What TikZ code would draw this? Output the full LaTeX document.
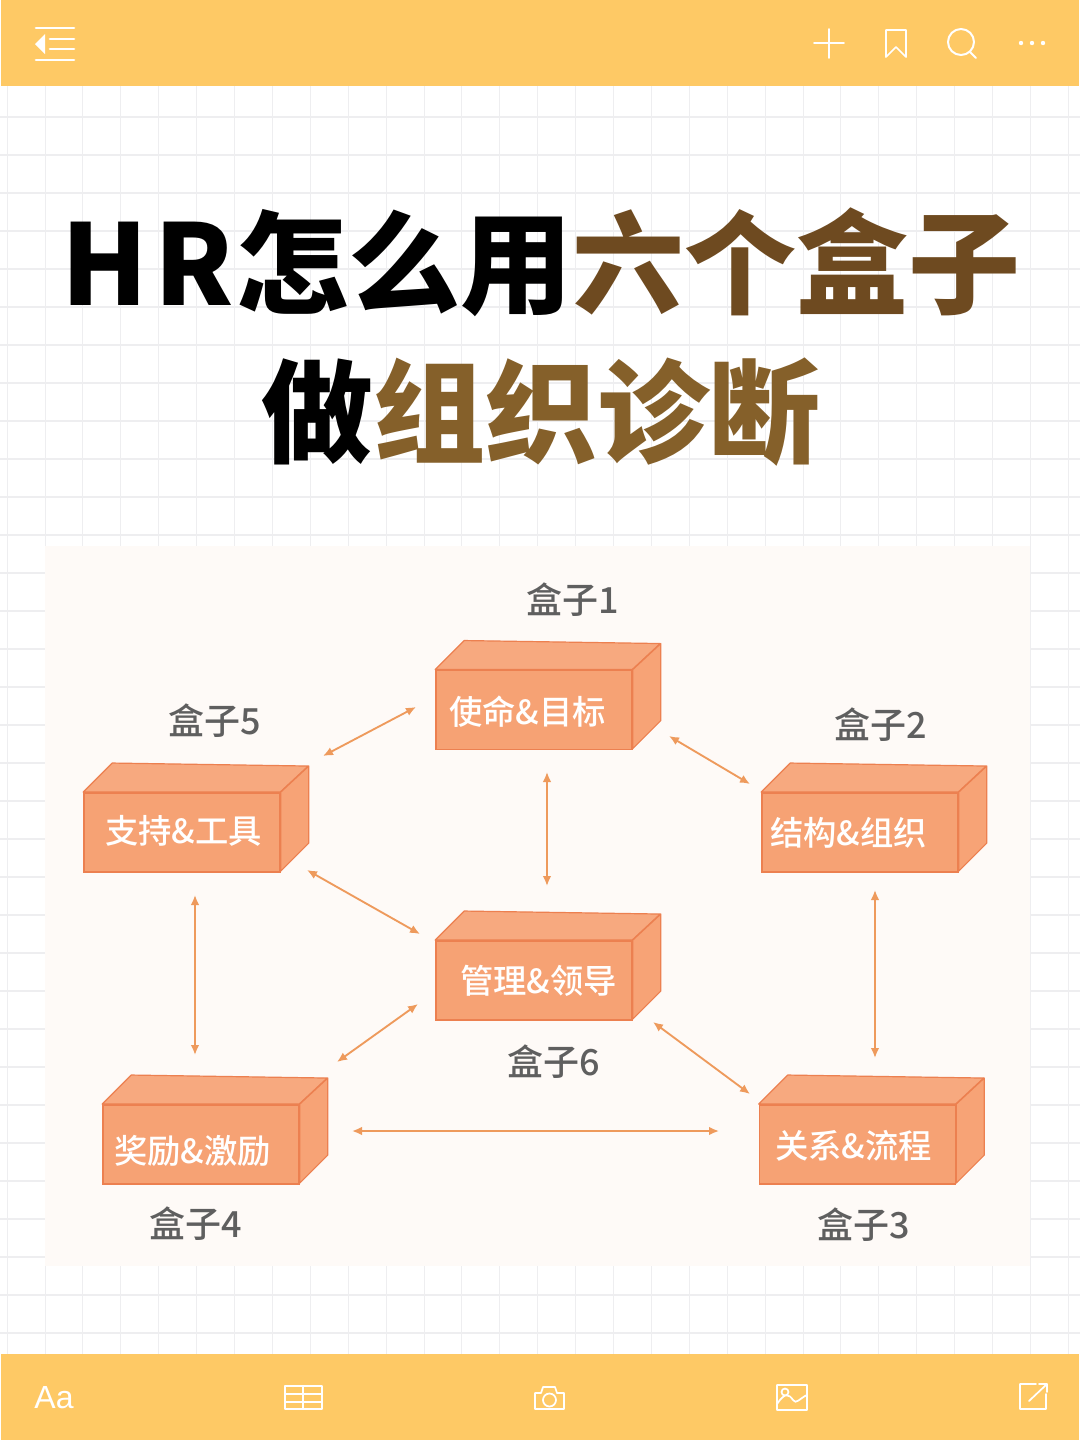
\documentclass[tikz,border=0pt]{standalone}
\usepackage{fontspec}
\newfontfamily\cjk{Noto Sans CJK SC}
\newfontfamily\cjkm{Noto Sans CJK SC Medium}
\setmainfont{Liberation Sans}
\definecolor{barc}{HTML}{FEC965}
\definecolor{gridc}{HTML}{EEEEF0}
\definecolor{panelc}{HTML}{FEFAF7}
\definecolor{brownA}{HTML}{6E4A20}
\definecolor{brownB}{HTML}{85602A}
\definecolor{boxfront}{HTML}{F6A274}
\definecolor{boxtop}{HTML}{F7A97F}
\definecolor{boxside}{HTML}{F7A376}
\definecolor{boxedge}{HTML}{EC8050}
\definecolor{arrowc}{HTML}{EE9A5C}
\definecolor{labelc}{HTML}{5F5F5F}
\usetikzlibrary{arrows.meta,calc}
\tikzset{
  x=0.75pt,y=-0.75pt,
  titletext/.style={inner sep=0,font=\cjk\bfseries\fontsize{84}{84}\selectfont,text=black},
  frontbox/.style={draw=boxedge,fill=boxfront,line width=1.2pt,minimum width=147pt,minimum height=59.5pt,inner sep=0},
  boxtext/.style={inner sep=0,text=white,font=\cjkm\fontsize{25}{25}\selectfont},
  facetop/.style={draw=boxedge,fill=boxtop,line width=0.9pt,line join=round},
  faceside/.style={draw=boxedge,fill=boxside,line width=0.9pt,line join=round},
  boxlabel/.style={inner sep=0,text=labelc,font=\cjkm\fontsize{27}{27}\selectfont},
  linkarrow/.style={draw=arrowc,line width=1.4pt,{Latex[length=7.5pt,width=6.5pt]}-{Latex[length=7.5pt,width=6.5pt]}},
  icon/.style={draw=white,line width=1.3pt,line join=round,line cap=round},
  iconthick/.style={draw=white,line width=2pt,line cap=round},
}
\newcommand{\brick}[6]{% name, cx, cy, text, text dx, text dy
  \node[frontbox] (#1) at (#2,#3) {};
  \draw[facetop] (#1.north west) -- ++(29,-29) -- ++(196,3) -- ++(-28,26) -- cycle;
  \draw[faceside] (#1.north east) -- ++(28,-26) -- ++(0,77) -- ++(-28,28) -- cycle;
  \node[boxtext] (#1t) at ($(#2,#3)+(#5,#6)$) {#4};
}
\begin{document}
\begin{tikzpicture}
\useasboundingbox (0,0) rectangle (1080,1440);
\fill[white] (0,0) rectangle (1080,1440);
% grid
\foreach \k in {0,...,28} {\draw[gridc,line width=0.6pt] ({7+37.9*\k},86) -- ({7+37.9*\k},1354);}
\foreach \k in {0,...,32} {\draw[gridc,line width=0.8pt] (0,{117+38*\k}) -- (1080,{117+38*\k});}
% bars
\fill[barc] (1,0) rectangle (1079,86);
\fill[barc] (1,1354) rectangle (1079,1440);
% top icons
\draw[iconthick] (36,28) -- (74,28) (50,39) -- (74,39) (50,49) -- (74,49) (36,60) -- (74,60);
\fill[white] (35,44) -- (45,34) -- (45,54) -- cycle;
\draw[icon] (814,43) -- (844,43) (829,29) -- (829,58);
\draw[icon] (886,30) -- (906,30) -- (906,57) -- (896,47) -- (886,57) -- cycle;
\draw[icon,line width=1.5pt] (961,42) circle (13) (970,52) -- (976,58);
\fill[white] (1021,43) circle (2.2) (1032,43) circle (2.2) (1043,43) circle (2.2);
% bottom icons
\node[inner sep=0,text=white,font=\fontsize{24}{24}\selectfont] (aa) at (54,1398) {Aa};
\draw[icon] (285,1386) rectangle (322,1409) (285,1394) -- (322,1394) (285,1402) -- (322,1402) (303,1386) -- (303,1409);
\draw[icon] (535,1393) -- (541,1393) -- (543,1387) -- (555,1387) -- (557,1393) -- (564,1393) -- (564,1409) -- (535,1409) -- cycle (549.5,1400) circle (6.5);
\draw[icon] (777,1385) rectangle (807,1410) (777,1404) .. controls (785,1392) and (789,1394) .. (793,1400) .. controls (796,1405) and (800,1398) .. (807,1395) (785,1392) circle (3.5);
\draw[icon] (1036,1384) -- (1020,1384) -- (1020,1409) -- (1046,1409) -- (1046,1394) (1029,1401) -- (1047,1384) (1039,1384) -- (1047,1384) -- (1047,1392);
% title
\node[titletext] (t1) at (541,262) {H\hspace{5pt}R\hspace{1.5pt}怎么用\textcolor{brownA}{六个盒子}};
\node[titletext] (t2) at (541,412) {做\textcolor{brownB}{组织诊断}};
% panel
\fill[panelc] (45,546) rectangle (1030,1266);
% boxes
\brick{b1}{534}{710}{使命\&目标}{-6.5}{2}
\brick{b5}{182}{832.5}{支持\&工具}{1.5}{-1.5}
\brick{b2}{860}{832.5}{结构\&组织}{-11.5}{0.5}
\brick{b6}{534}{980.5}{管理\&领导}{4.5}{0.5}
\brick{b4}{201}{1144.5}{奖励\&激励}{-8.5}{6.5}
\brick{b3}{857.5}{1144.5}{关系\&流程}{-4}{1.5}
% labels
\node[boxlabel] (l1) at (573,600) {盒子1};
\node[boxlabel] (l5) at (215,721) {盒子5};
\node[boxlabel] (l2) at (881,725) {盒子2};
\node[boxlabel] (l6) at (554,1062) {盒子6};
\node[boxlabel] (l4) at (196,1224) {盒子4};
\node[boxlabel] (l3) at (864,1225) {盒子3};
% arrow ends
\coordinate (a1) at (323,756); \coordinate (a2) at (416,707);
\coordinate (c1) at (669,736); \coordinate (c2) at (750,784);
\coordinate (d1) at (547,772); \coordinate (d2) at (547,886);
\coordinate (e1) at (307,870); \coordinate (e2) at (420,934);
\coordinate (f1) at (195,895); \coordinate (f2) at (195,1055);
\coordinate (g1) at (875,890); \coordinate (g2) at (875,1058);
\coordinate (h1) at (418,1004); \coordinate (h2) at (337,1062);
\coordinate (i1) at (653,1022); \coordinate (i2) at (750,1094);
\coordinate (j1) at (352,1131); \coordinate (j2) at (719,1131);
\foreach \p/\q in {a1/a2,c1/c2,d1/d2,e1/e2,f1/f2,g1/g2,h1/h2,i1/i2,j1/j2} {\draw[linkarrow] (\p) -- (\q);}
\end{tikzpicture}
\end{document}
